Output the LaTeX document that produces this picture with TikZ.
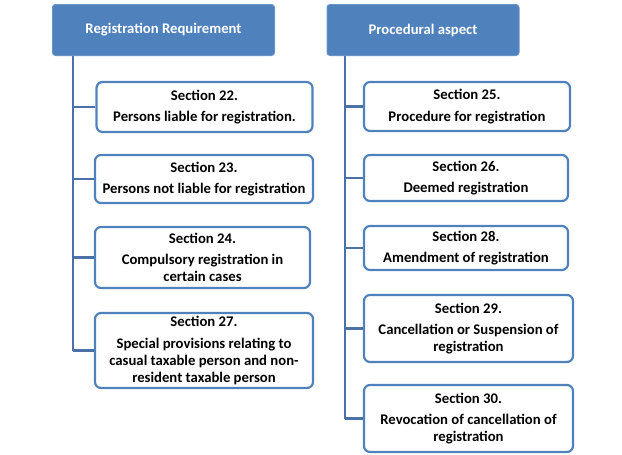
\documentclass[tikz,border=0pt]{standalone}
\usepackage{fontspec}
\setmainfont{Carlito}
\usetikzlibrary{positioning, calc}
\definecolor{hblue}{HTML}{4F81BD}
\definecolor{lblue}{HTML}{4A72A8}
\tikzset{
  every picture/.style={font=\bfseries, line width=2pt},
  head/.style={draw=hblue!85!white, fill=hblue, text=white, rounded corners=3pt, align=center, inner sep=0pt, line width=1pt},
  sec/.style={draw=hblue, fill=white, rounded corners=6pt, align=center, inner sep=0pt, line width=2.2pt},
  link/.style={draw=lblue, line width=2.6pt},
}
\begin{document}
\begin{tikzpicture}[x=1pt, y=-1pt, every node/.append style={font=\fontsize{14.7}{17}\selectfont\bfseries}]
  \useasboundingbox (0,0) rectangle (622,455);
  % headers
  \node[head, minimum width=222pt, minimum height=51pt] (reg) at (163.5,30) {Registration Requirement};
  \node[head, minimum width=192pt, minimum height=51pt] (proc) at (423,30) {Procedural aspect};
  % left column
  \node[sec, minimum width=216pt, minimum height=50pt] (s22) at (204.5,107) {Section 22.\\[4.5pt] Persons liable for registration.};
  \node[sec, minimum width=218pt, minimum height=48pt] (s23) at (204,179) {Section 23.\\[4.5pt] Persons not liable for registration};
  \node[sec, minimum width=215pt, minimum height=61pt] (s24) at (202.5,257.5) {Section 24.\\[4.5pt] Compulsory registration in\\ certain cases};
  \node[sec, minimum width=218pt, minimum height=75pt] (s27) at (204,350.5) {Section 27.\\[4.5pt] Special provisions relating to\\ casual taxable person and non-\\ resident taxable person};
  % right column
  \node[sec, minimum width=206pt, minimum height=49pt] (s25) at (467,106.5) {Section 25.\\[4.5pt] Procedure for registration};
  \node[sec, minimum width=204pt, minimum height=46pt] (s26) at (466,178) {Section 26.\\[4.5pt] Deemed registration};
  \node[sec, minimum width=204pt, minimum height=44pt] (s28) at (466,248) {Section 28.\\[4.5pt] Amendment of registration};
  \node[sec, minimum width=209pt, minimum height=67pt] (s29) at (468.5,328.5) {Section 29.\\[4.5pt] Cancellation or Suspension of\\ registration};
  \node[sec, minimum width=209pt, minimum height=67pt] (s30) at (468.5,418.5) {Section 30.\\[4.5pt] Revocation of cancellation of\\ registration};
  % trunks
  \coordinate (tl) at (73,56);
  \coordinate (tr) at (345,56);
  \draw[link] (tl) -- (tl |- s27.west);
  \draw[link] (tr) -- (tr |- s30.west);
  % branches
  \foreach \b in {s22,s23,s24,s27} \draw[link] (tl |- \b.west) -- (\b.west);
  \foreach \b in {s25,s26,s28,s29,s30} \draw[link] (tr |- \b.west) -- (\b.west);
\end{tikzpicture}
\end{document}
